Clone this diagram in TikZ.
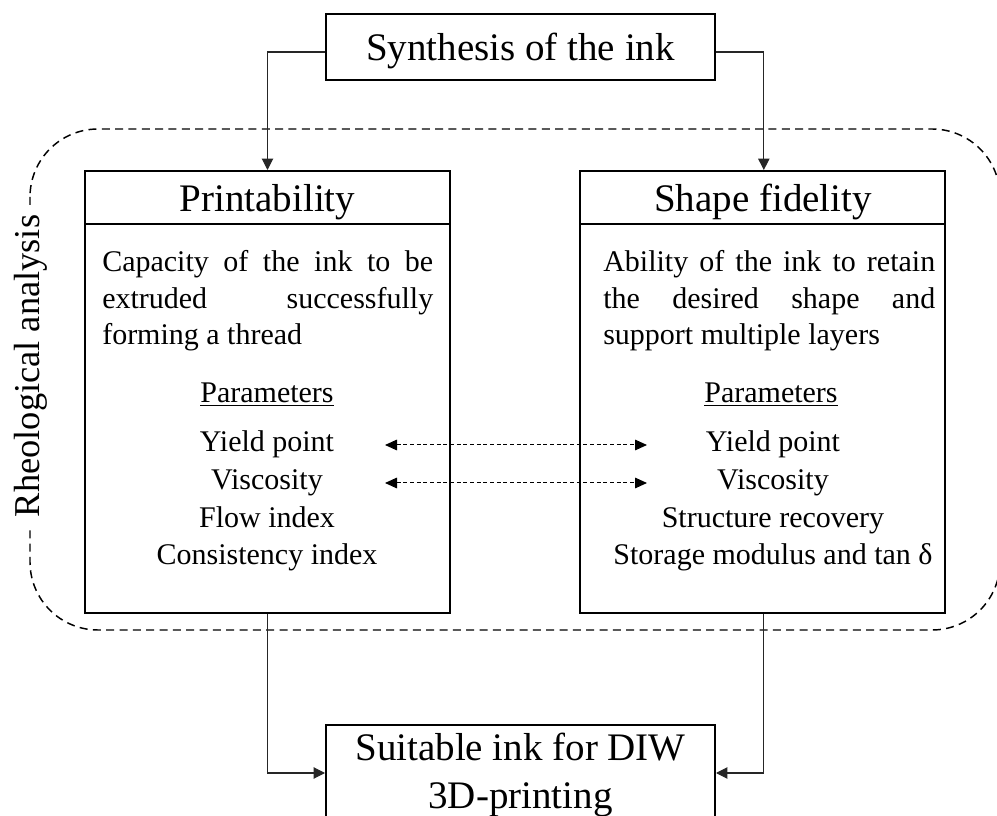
\documentclass[tikz,border=0pt]{standalone}
\usepackage{fontspec}
\setmainfont{Liberation Serif}
\usetikzlibrary{arrows.meta}
\begin{document}
\begin{tikzpicture}[x=0.75pt,y=-0.75pt,
  box/.style={draw, line width=1.5pt, inner sep=0pt},
  headtext/.style={font=\fontsize{29.25}{35}\selectfont, inner sep=0pt, anchor=base},
  bodytext/.style={font=\fontsize{22.5}{27}\selectfont, inner sep=0pt},
  conn/.style={line width=0.8pt, black!85, -{Triangle[length=8.5pt,width=8.5pt]}},
  dconn/.style={line width=0.75pt, dash pattern=on 3pt off 2pt,
     {Triangle[length=9pt,width=8pt]}-{Triangle[length=9pt,width=8pt]}},
  border/.style={line width=1.1pt, dash pattern=on 6pt off 4pt, rounded corners=51pt},
]
\clip (0,0) rectangle (997,816);

% dashed region
\draw[border] (30,129) rectangle (1000,630);

% boxes
\node[box, minimum width=389*0.75pt, minimum height=66*0.75pt] (synth) at (520.5,47) {};
\node[box, minimum width=365*0.75pt, minimum height=53*0.75pt] (printhead) at (267.5,197.5) {};
\node[box, minimum width=365*0.75pt, minimum height=389*0.75pt] (printbody) at (267.5,418.5) {};
\node[box, minimum width=365*0.75pt, minimum height=53*0.75pt] (shapehead) at (762.5,197.5) {};
\node[box, minimum width=365*0.75pt, minimum height=389*0.75pt] (shapebody) at (762.5,418.5) {};
\node[box, minimum width=389*0.75pt, minimum height=96*0.75pt] (suit) at (520.5,773) {};

% titles
\node[headtext] (synthT) at (520.5,61) {Synthesis of the ink};
\node[headtext] (printT) at (267.5,212) {Printability};
\node[headtext] (shapeT) at (763,212) {Shape fidelity};
\node[headtext] (suitT1) at (520.5,760) {Suitable ink for DIW};
\node[headtext] (suitT2) at (520.5,808) {3D-printing};

% left description
\node[bodytext, anchor=base west] (pd1) at (102,272) {\makebox[248.25pt][s]{Capacity of the ink to be}};
\node[bodytext, anchor=base west] (pd2) at (102,308.5) {\makebox[248.25pt][s]{extruded successfully}};
\node[bodytext, anchor=base west] (pd3) at (102,345) {forming a thread};
\node[bodytext, anchor=base] (pp) at (267,403) {\underline{Parameters}};
\node[bodytext, anchor=base] (py) at (267,452) {Yield point};
\node[bodytext, anchor=base] (pv) at (267,490) {Viscosity};
\node[bodytext, anchor=base] (pf) at (267,528) {Flow index};
\node[bodytext, anchor=base] (pc) at (267,565) {Consistency index};

% right description
\node[bodytext, anchor=base west] (sd1) at (603,272) {\makebox[249pt][s]{Ability of the ink to retain}};
\node[bodytext, anchor=base west] (sd2) at (603,308.5) {\makebox[249pt][s]{the desired shape and}};
\node[bodytext, anchor=base west] (sd3) at (603,345) {support multiple layers};
\node[bodytext, anchor=base] (sp) at (771,403) {\underline{Parameters}};
\node[bodytext, anchor=base] (sy) at (773,452) {Yield point};
\node[bodytext, anchor=base] (sv) at (773,490) {Viscosity};
\node[bodytext, anchor=base] (ss) at (773,528) {Structure recovery};
\node[bodytext, anchor=base] (sm) at (773,565) {Storage modulus and tan δ};

% label
\node[rotate=90, anchor=base, fill=white, inner xsep=7pt, inner ysep=1pt,
      font=\fontsize{27.3}{32}\selectfont] (rheo) at (40,366) {Rheological analysis};

% connectors
\draw[conn] ([yshift=-3.75pt]synth.west) -| (printhead.north);
\draw[conn] ([yshift=-3.75pt]synth.east) -| ([xshift=1pt]shapehead.north);
\draw[conn] (printbody.south) |- (suit.west);
\draw[conn] ([xshift=1pt]shapebody.south) |- (suit.east);

% dashed double arrows
\coordinate (yl) at (385,445);
\coordinate (yr) at (647,445);
\coordinate (vl) at (385,483);
\coordinate (vr) at (647,483);
\draw[dconn] (yl) -- (yr);
\draw[dconn] (vl) -- (vr);
\end{tikzpicture}
\end{document}
